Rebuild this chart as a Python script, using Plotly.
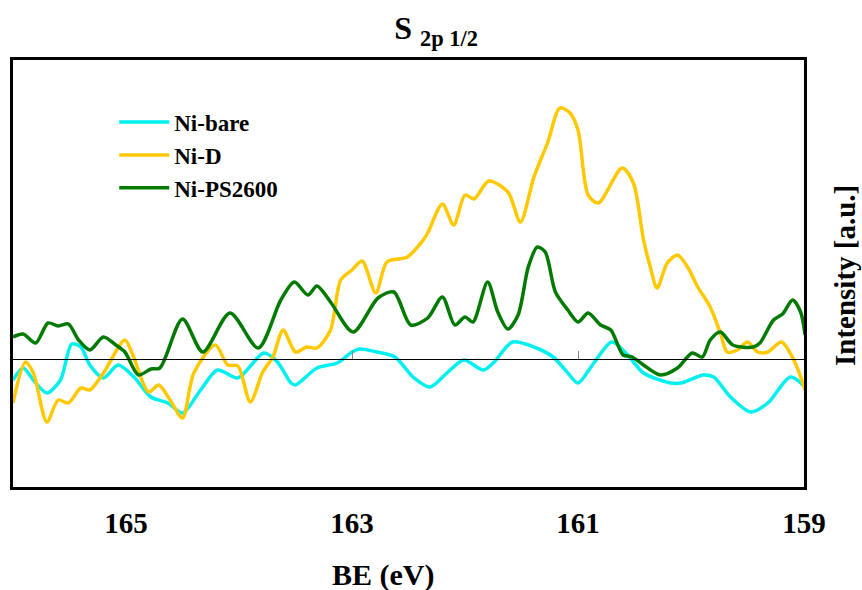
import plotly.graph_objects as go

# Binding energy (eV) and intensity (a.u.)
be_green = [166.00, 165.91, 165.80, 165.69, 165.60, 165.51, 165.42, 165.32, 165.20, 165.09, 165.01,
            164.89, 164.78, 164.70, 164.50, 164.32, 164.08, 163.83, 163.63, 163.51, 163.39, 163.31,
            163.19, 162.99, 162.77, 162.63, 162.48, 162.33, 162.20, 162.09, 162.00, 161.93, 161.80,
            161.71, 161.62, 161.53, 161.44, 161.36, 161.29, 161.20, 161.09, 161.00, 160.91, 160.80,
            160.71, 160.60, 160.52, 160.42, 160.27, 160.12, 159.99, 159.90, 159.83, 159.74, 159.63,
            159.45, 159.39, 159.27, 159.19, 159.10, 159.03, 158.99]
int_green = [22, 25, 16, 36, 33, 35, 19, 9, 22, 14, 7,
             -16, -10, -9, 40, 7, 46, 11, 59, 77, 64, 73,
             57, 27, 61, 67, 34, 41, 62, 34, 42, 37, 77,
             47, 30, 44, 92, 112, 107, 67, 49, 37, 46, 34,
             29, 4, 2, -6, -16, -9, 6, 2, 19, 27, 14,
             12, 16, 39, 45, 59, 47, 24]

be_cyan = [166.00, 165.91, 165.82, 165.70, 165.58, 165.48, 165.40, 165.32, 165.20, 165.07, 164.93,
           164.78, 164.63, 164.50, 164.34, 164.19, 164.01, 163.78, 163.66, 163.54, 163.50, 163.31,
           163.13, 163.00, 162.93, 162.78, 162.62, 162.46, 162.31, 162.16, 162.01, 161.84, 161.75,
           161.58, 161.39, 161.22, 161.09, 161.00, 160.86, 160.70, 160.56, 160.42, 160.18, 160.09,
           159.89, 159.80, 159.65, 159.47, 159.32, 159.12, 158.99]
int_cyan = [-21, -9, -21, -34, -21, 15, 12, -6, -19, -6, -18,
            -38, -44, -54, -31, -11, -19, 6, -3, -24, -26, -9,
            -4, 7, 10, 7, 2, -18, -28, -14, -1, -11, -4,
            17, 12, 2, -14, -24, -4, 17, 4, -14, -24, -24,
            -16, -18, -38, -53, -44, -18, -28]

be_yellow = [166.00, 165.89, 165.82, 165.70, 165.60, 165.51, 165.40, 165.32, 165.20, 165.01, 164.94,
             164.80, 164.71, 164.61, 164.50, 164.40, 164.21, 164.10, 164.01, 163.90, 163.79, 163.70,
             163.61, 163.50, 163.40, 163.31, 163.19, 163.10, 163.00, 162.91, 162.79, 162.69, 162.51,
             162.37, 162.33, 162.20, 162.10, 162.00, 161.92, 161.79, 161.62, 161.51, 161.39, 161.27,
             161.16, 161.07, 161.00, 160.98, 160.91, 160.82, 160.61, 160.51, 160.42, 160.36, 160.30,
             160.21, 160.12, 160.03, 159.94, 159.83, 159.74, 159.68, 159.59, 159.50, 159.41, 159.32,
             159.20, 159.09, 158.99]
int_yellow = [-44, -3, -14, -63, -41, -44, -29, -31, -14, 19, 4,
              -33, -26, -41, -59, -14, 14, -6, -7, -43, -13, 2,
              29, 7, 12, 11, 29, 79, 89, 98, 66, 97, 102,
              119, 126, 155, 134, 164, 160, 178, 167, 137, 182, 216,
              251, 246, 229, 216, 164, 156, 191, 176, 119, 92, 71,
              96, 104, 92, 72, 52, 26, 7, 9, 17, 7, 7,
              17, -1, -31]

series_names = ["Ni-bare", "Ni-D", "Ni-PS2600"]
x_ticks = [165, 163, 161, 159]
zero_ticks = [163, 161]
x_range = [166.0, 159.0]
y_range = [-128, 299]

FONT = "Liberation Serif"

fig = go.Figure()
fig.add_trace(go.Scatter(x=be_cyan, y=int_cyan, name=series_names[0], mode="lines",
                         line=dict(color="#00F0F0", width=3.5, shape="spline", smoothing=0.8)))
fig.add_trace(go.Scatter(x=be_yellow, y=int_yellow, name=series_names[1], mode="lines",
                         line=dict(color="#FFC800", width=3.5, shape="spline", smoothing=0.8)))
fig.add_trace(go.Scatter(x=be_green, y=int_green, name=series_names[2], mode="lines",
                         line=dict(color="#007A00", width=3.5, shape="spline", smoothing=0.8)))
# helper trace to activate the zero-crossing axis
fig.add_trace(go.Scatter(x=[zero_ticks[0]], y=[0], xaxis="x2", mode="markers",
                         marker=dict(opacity=0), showlegend=False, hoverinfo="skip"))

zero_pos = (0 - y_range[0]) / (y_range[1] - y_range[0])

fig.update_layout(
    width=862, height=590,
    margin=dict(l=13, r=58, t=60, b=103),
    paper_bgcolor="white", plot_bgcolor="white",
    font=dict(family=FONT, color="black"),
    title=dict(text="<b>S <sub>2p 1/2</sub></b>", font=dict(family=FONT, size=32, color="black"),
               xref="container", x=436 / 862, xanchor="center",
               yref="container", y=1 - 28 / 590, yanchor="middle"),
    xaxis=dict(range=x_range, tickvals=x_ticks, ticktext=[str(t) for t in x_ticks],
               showline=True, linecolor="black", linewidth=2.5, mirror=True,
               ticks="", showgrid=False, zeroline=False,
               tickfont=dict(family=FONT, size=29, color="black", weight="bold"),
               ticklabelstandoff=8),
    xaxis2=dict(range=x_range, overlaying="x", anchor="free", position=zero_pos,
                showline=True, linecolor="black", linewidth=1.2,
                ticks="inside", tickvals=zero_ticks, ticklen=8, tickwidth=1, tickcolor="#888888",
                showticklabels=False, showgrid=False, zeroline=False),
    yaxis=dict(range=y_range, showline=True, linecolor="black", linewidth=2.5, mirror=True,
               ticks="", showticklabels=False, showgrid=False, zeroline=False),
    legend=dict(x=0.128, y=0.905, xanchor="left", yanchor="top", bgcolor="rgba(0,0,0,0)",
                font=dict(family=FONT, size=23, color="black", weight="bold"), itemwidth=50,
                tracegroupgap=0),
    showlegend=True,
)

fig.add_annotation(text="<b>BE (eV)</b>", xref="paper", yref="paper",
                   x=(383 - 13) / 791, y=(487 - 575) / 427, xanchor="center", yanchor="middle",
                   showarrow=False, font=dict(family=FONT, size=30, color="black"))
fig.add_annotation(text="<b>Intensity [a.u.]</b>", xref="paper", yref="paper",
                   x=(845 - 13) / 791, y=(487 - 275) / 427, xanchor="center", yanchor="middle",
                   textangle=-90, showarrow=False, font=dict(family=FONT, size=29, color="black"))

fig.write_html("out.html")
